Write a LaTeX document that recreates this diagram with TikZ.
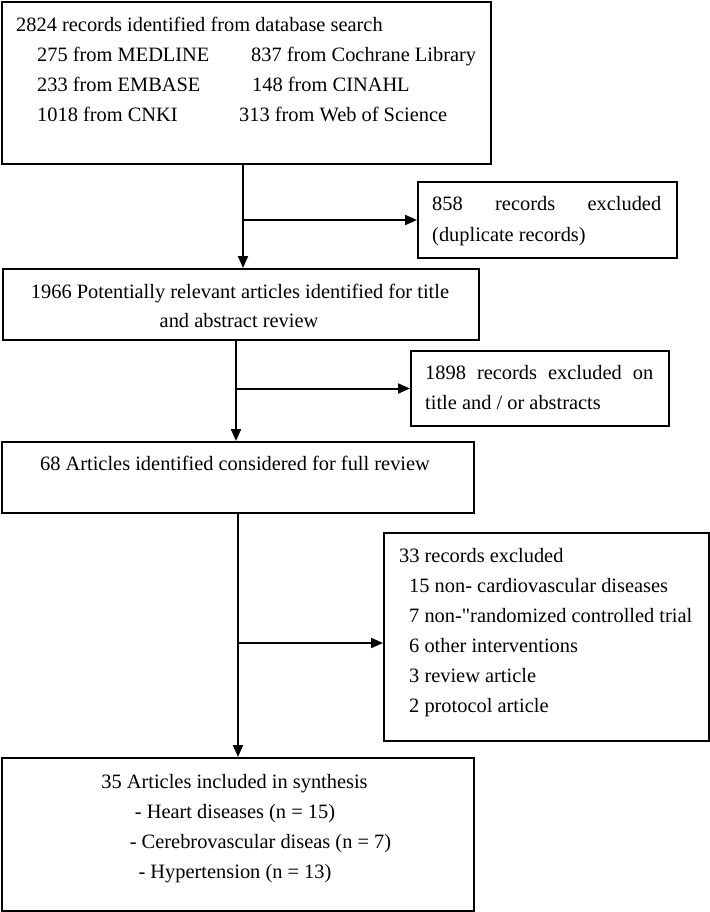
\documentclass[tikz,border=0pt]{standalone}
\usepackage{fontspec}
\setmainfont{Liberation Serif}
\usetikzlibrary{arrows.meta}
\tikzset{
  box/.style={draw=black, line width=2pt, anchor=north west, inner sep=0pt, fill=white},
  txt/.style={inner sep=0pt, anchor=base west, font=\fontsize{20.4}{30}\selectfont},
  arr/.style={line width=2pt, -{Triangle[length=12pt,width=10pt]}},
  ln/.style={line width=2pt}
}
\begin{document}
\begin{tikzpicture}[x=1pt,y=-1pt]
\useasboundingbox[fill=white] (0,0) rectangle (709,912);
% boxes
\node[box, minimum width=489pt, minimum height=162pt] (b1) at (1,1) {};
\node[box, minimum width=259pt, minimum height=76pt] (b858) at (417,181) {};
\node[box, minimum width=476pt, minimum height=71pt] (b2) at (2,268) {};
\node[box, minimum width=258pt, minimum height=75pt] (b1898) at (410,350) {};
\node[box, minimum width=472pt, minimum height=71pt] (b3) at (1,441) {};
\node[box, minimum width=325pt, minimum height=208pt] (b33) at (383,532) {};
\node[box, minimum width=472pt, minimum height=153pt] (b4) at (1,757) {};
% texts box 1
\node[txt] (t1a) at (16,32) {2824 records identified from database search};
\node[txt] (t1b) at (37,62) {275 from MEDLINE};
\node[txt] (t1c) at (251,62) {837 from Cochrane Library};
\node[txt] (t1d) at (37,92) {233 from EMBASE};
\node[txt] (t1e) at (252,92) {148 from CINAHL};
\node[txt] (t1f) at (37,122) {1018 from CNKI};
\node[txt] (t1g) at (239,122) {313 from Web of Science};
% box 858
\node[txt] (t2a) at (432,211) {\makebox[229pt][s]{858 records excluded}};
\node[txt] (t2b) at (432,241) {(duplicate records)};
% box 2
\node[txt, anchor=base] (t3a) at (240,298) {1966 Potentially relevant articles identified for title};
\node[txt, anchor=base] (t3b) at (239,327) {and abstract review};
% box 1898
\node[txt] (t4a) at (425,379) {\makebox[228pt][s]{1898 records excluded on}};
\node[txt] (t4b) at (425,409) {title and / or abstracts};
% box 3
\node[txt, anchor=base] (t5a) at (235,470) {68 Articles identified considered for full review};
% box 33
\node[txt] (t6a) at (399,562) {33 records excluded};
\node[txt] (t6b) at (409,592) {15 non- cardiovascular diseases};
\node[txt] (t6c) at (409,622) {7 non-\textquotedbl randomized controlled trial};
\node[txt] (t6d) at (409,652) {6 other interventions};
\node[txt] (t6e) at (409,682) {3 review article};
\node[txt] (t6f) at (409,712) {2 protocol article};
% box 4
\node[txt, anchor=base] (t7a) at (234.5,788) {35 Articles included in synthesis};
\node[txt, anchor=base] (t7b) at (235,818) {- Heart diseases (n = 15)};
\node[txt, anchor=base] (t7c) at (260.5,848) {- Cerebrovascular diseas (n = 7)};
\node[txt, anchor=base] (t7d) at (235,878) {- Hypertension (n = 13)};
% connectors
\draw[arr] ([xshift=2pt]b2.north |- b1.south) -- ([xshift=2pt]b2.north);
\draw[arr] ([xshift=2pt]b2.north |- b858.west) -- (b858.west);
\draw[arr] ([xshift=-2pt]b3.north |- b2.south) -- ([xshift=-2pt]b3.north);
\draw[arr] ([xshift=-2pt]b3.north |- b1898.west) -- (b1898.west);
\draw[arr] (b4.north |- b3.south) -- (b4.north);
\draw[arr] (b4.north |- b33.west) ++(0,6) -- ([yshift=-6pt]b33.west);
\end{tikzpicture}
\end{document}
